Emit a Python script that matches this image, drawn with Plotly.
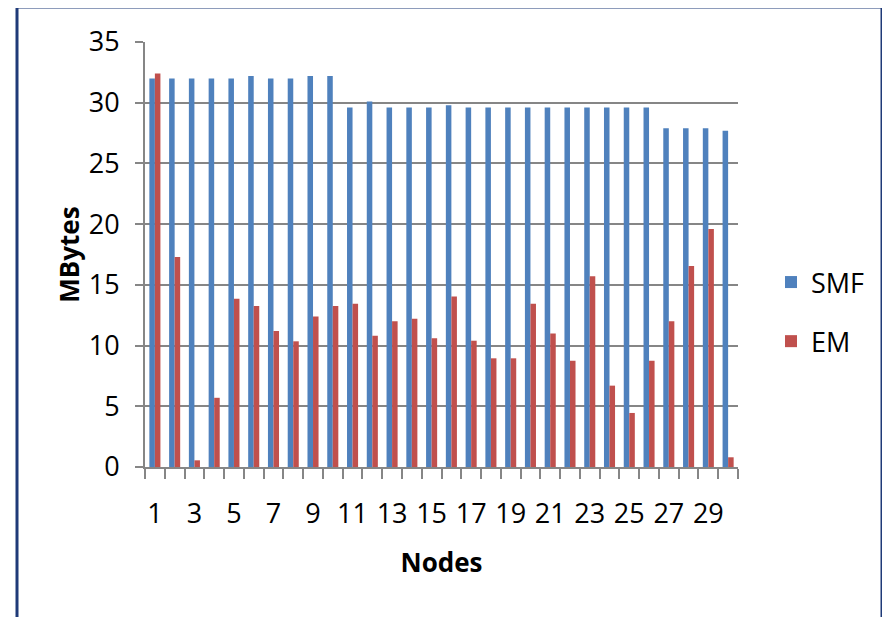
import plotly.graph_objects as go

nodes = list(range(1, 31))
smf = [32.0, 32.0, 32.0, 32.0, 32.0, 32.2, 32.0, 32.0, 32.2, 32.2,
       29.6, 30.1, 29.6, 29.6, 29.6, 29.8, 29.6, 29.6, 29.6, 29.6,
       29.6, 29.6, 29.6, 29.6, 29.6, 29.6, 27.9, 27.9, 27.9, 27.7]
em = [32.4, 17.3, 0.55, 5.7, 13.85, 13.25, 11.2, 10.35, 12.4, 13.25,
      13.45, 10.8, 12.0, 12.2, 10.6, 14.05, 10.4, 8.95, 8.95, 13.45,
      11.0, 8.75, 15.7, 6.7, 4.45, 8.75, 12.0, 16.55, 19.6, 0.8]
tick_labels = [str(n) for n in nodes[::2]]

FONT = "Open Sans, sans-serif"
GRAY = "#868686"

fig = go.Figure()
fig.add_trace(go.Bar(x=nodes, y=smf, name="SMF", marker_color="#4F81BD",
                     marker_line_width=0, legendgroup="a"))
fig.add_trace(go.Bar(x=nodes, y=em, name="EM", marker_color="#C0504D",
                     marker_line_width=0, legendgroup="b"))

OFF = 8  # page body margin
W, H = 890, 617
# plot area in page pixels
PX0, PX1, PY0, PY1 = 145, 738, 42, 467
L = PX0 - OFF
T = PY0 - OFF
R = W - (PX1 - OFF)
B = H - (PY1 - OFF)
pw, ph = PX1 - PX0, PY1 - PY0


def px(x):
    return (x - PX0) / pw


def py(y):
    return (PY1 - y) / ph


fig.update_layout(
    width=W, height=H,
    margin=dict(l=L, r=R, t=T, b=B),
    paper_bgcolor="white", plot_bgcolor="white",
    barmode="group", bargap=0.44, bargroupgap=0,
    font=dict(family=FONT, size=27, color="black"),
    showlegend=True,
    legend=dict(x=px(771), y=py(258), xanchor="left", yanchor="top",
                traceorder="grouped", tracegroupgap=21,
                font=dict(family=FONT, size=27, color="black"),
                bgcolor="rgba(0,0,0,0)"),
    xaxis=dict(
        range=[0.5, 30.5], tickmode="array", tickvals=nodes[::2], ticktext=tick_labels,
        ticks="", showgrid=False, zeroline=False,
        showline=True, linecolor=GRAY, linewidth=2,
        ticklabelstandoff=22,
        tickfont=dict(family=FONT, size=27),
        minor=dict(tick0=0.5, dtick=1, ticks="outside", ticklen=10,
                   tickcolor=GRAY, tickwidth=2, showgrid=False),
        title=dict(text="<b>Nodes</b>", font=dict(family=FONT, size=26), standoff=23),
    ),
    yaxis=dict(
        range=[0, 35], dtick=5, tick0=0,
        showgrid=True, gridcolor=GRAY, gridwidth=2, zeroline=False,
        showline=True, linecolor=GRAY, linewidth=2,
        ticks="outside", ticklen=8, tickcolor=GRAY, tickwidth=2,
        ticklabelstandoff=10,
        tickfont=dict(family=FONT, size=27),
        title=dict(text="<b>MBytes</b>", font=dict(family=FONT, size=26), standoff=2),
    ),
    shapes=[dict(type="rect", xref="paper", yref="paper",
                 x0=px(17), x1=px(882),
                 y0=py(700), y1=py(7),
                 line=dict(color="#1F3A78", width=3), fillcolor="rgba(0,0,0,0)",
                 layer="below")],
)

fig.write_html("out.html")
